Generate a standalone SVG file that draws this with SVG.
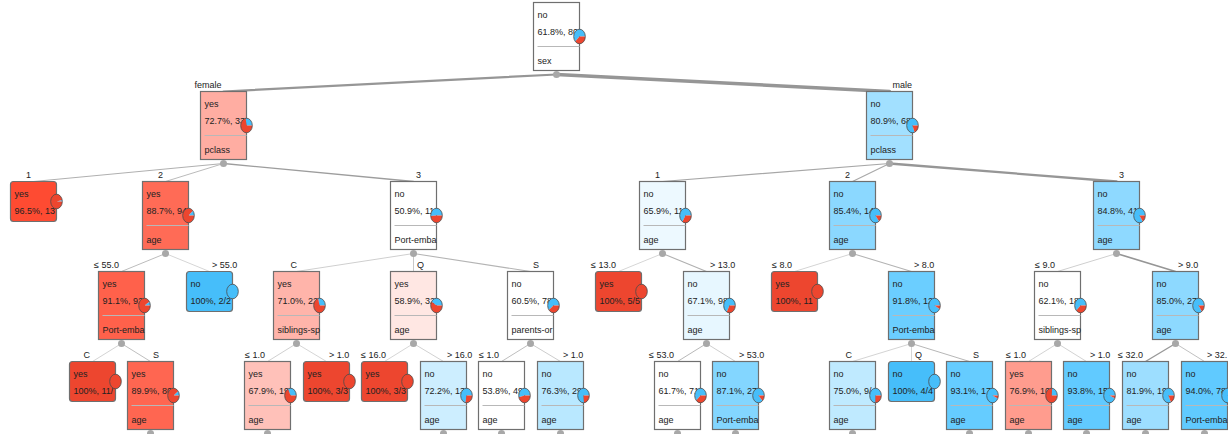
<svg xmlns="http://www.w3.org/2000/svg" width="1228" height="434" viewBox="0 0 1228 434">
<style>
.box{stroke:#6f6f6f;stroke-width:1.2}
.sep{stroke:#b8b8b8;stroke-width:1}
.t{font-family:"Liberation Sans",Arial,sans-serif;font-size:9px;fill:#222}
.e{text-anchor:end}
.dot{fill:#a8a8a8}
.pb{fill:#46befa}
.pr{fill:#ed462f}
.po{fill:none;stroke:#4a4a4a;stroke-width:0.8}
#edges line{stroke-linecap:round;fill:none}
</style>
<rect width="1228" height="434" fill="#ffffff"/>
<g id="edges">
<line x1="556.5" y1="74.5" x2="223.5" y2="91.5" stroke="#969696" stroke-width="2.2"/>
<line x1="556.5" y1="74.5" x2="889.5" y2="91.5" stroke="#969696" stroke-width="3.5"/>
<line x1="223.5" y1="163.5" x2="33.5" y2="181.5" stroke="#b0b0b0" stroke-width="1.1"/>
<line x1="223.5" y1="163.5" x2="165.5" y2="181.5" stroke="#bbbbbb" stroke-width="1"/>
<line x1="223.5" y1="163.5" x2="413.5" y2="181.5" stroke="#9d9d9d" stroke-width="1.35"/>
<line x1="889.5" y1="163.5" x2="662.5" y2="181.5" stroke="#a7a7a7" stroke-width="1.2"/>
<line x1="889.5" y1="163.5" x2="852.5" y2="181.5" stroke="#a9a9a9" stroke-width="1.2"/>
<line x1="889.5" y1="163.5" x2="1116.5" y2="181.5" stroke="#969696" stroke-width="2.3"/>
<line x1="165.5" y1="253.5" x2="121.5" y2="271.5" stroke="#bcbcbc" stroke-width="1"/>
<line x1="165.5" y1="253.5" x2="209.5" y2="271.5" stroke="#d6d6d6" stroke-width="1"/>
<line x1="413.5" y1="253.5" x2="296.5" y2="271.5" stroke="#cfcfcf" stroke-width="1"/>
<line x1="413.5" y1="253.5" x2="413.5" y2="271.5" stroke="#c8c8c8" stroke-width="1"/>
<line x1="413.5" y1="253.5" x2="530.5" y2="271.5" stroke="#b4b4b4" stroke-width="1.05"/>
<line x1="662.5" y1="253.5" x2="618.5" y2="271.5" stroke="#d6d6d6" stroke-width="1"/>
<line x1="662.5" y1="253.5" x2="706.5" y2="271.5" stroke="#b0b0b0" stroke-width="1.1"/>
<line x1="852.5" y1="253.5" x2="794.5" y2="271.5" stroke="#d4d4d4" stroke-width="1"/>
<line x1="852.5" y1="253.5" x2="911.5" y2="271.5" stroke="#b3b3b3" stroke-width="1.05"/>
<line x1="1116.5" y1="253.5" x2="1057.5" y2="271.5" stroke="#cfcfcf" stroke-width="1"/>
<line x1="1116.5" y1="253.5" x2="1175.5" y2="271.5" stroke="#969696" stroke-width="1.7"/>
<line x1="121.5" y1="343.5" x2="92.5" y2="361.5" stroke="#d4d4d4" stroke-width="1"/>
<line x1="121.5" y1="343.5" x2="150.5" y2="361.5" stroke="#bfbfbf" stroke-width="1"/>
<line x1="296.5" y1="343.5" x2="267.5" y2="361.5" stroke="#d0d0d0" stroke-width="1"/>
<line x1="296.5" y1="343.5" x2="326.5" y2="361.5" stroke="#d6d6d6" stroke-width="1"/>
<line x1="413.5" y1="343.5" x2="384.5" y2="361.5" stroke="#d6d6d6" stroke-width="1"/>
<line x1="413.5" y1="343.5" x2="443.5" y2="361.5" stroke="#d2d2d2" stroke-width="1"/>
<line x1="530.5" y1="343.5" x2="501.5" y2="361.5" stroke="#bebebe" stroke-width="1"/>
<line x1="530.5" y1="343.5" x2="560.5" y2="361.5" stroke="#cdcdcd" stroke-width="1"/>
<line x1="706.5" y1="343.5" x2="677.5" y2="361.5" stroke="#b8b8b8" stroke-width="1"/>
<line x1="706.5" y1="343.5" x2="735.5" y2="361.5" stroke="#cfcfcf" stroke-width="1"/>
<line x1="911.5" y1="343.5" x2="852.5" y2="361.5" stroke="#d4d4d4" stroke-width="1"/>
<line x1="911.5" y1="343.5" x2="911.5" y2="361.5" stroke="#d6d6d6" stroke-width="1"/>
<line x1="911.5" y1="343.5" x2="969.5" y2="361.5" stroke="#b7b7b7" stroke-width="1"/>
<line x1="1057.5" y1="343.5" x2="1028.5" y2="361.5" stroke="#d3d3d3" stroke-width="1"/>
<line x1="1057.5" y1="343.5" x2="1086.5" y2="361.5" stroke="#d3d3d3" stroke-width="1"/>
<line x1="1175.5" y1="343.5" x2="1145.5" y2="361.5" stroke="#999999" stroke-width="1.4"/>
<line x1="1175.5" y1="343.5" x2="1204.5" y2="361.5" stroke="#c1c1c1" stroke-width="1"/>
</g>

<g id="n-root">
<rect class="box" x="533.5" y="2.5" width="46" height="68" fill="#ffffff"/>
<text class="t" x="537.5" y="17.5">no</text>
<text class="t" x="537.5" y="34.5">61.8%, 80</text>
<line class="sep" x1="537.5" y1="46.5" x2="579.5" y2="46.5"/>
<text class="t" x="537.5" y="63.5">sex</text>
<g transform="translate(579.5,36.5)"><path class="pb" d="M0,0H5.8A5.8,7.3 0 1 0 -4.28,4.93Z"/><path class="pr" d="M0,0L-4.28,4.93A5.8,7.3 0 0 0 5.8,0Z"/><ellipse class="po" rx="5.8" ry="7.3"/></g>
<circle class="dot" cx="556.5" cy="74.5" r="3.5"/>
</g>

<g id="n-female">
<text class="t e" x="221.5" y="88">female</text>
<rect class="box" x="200.5" y="91.5" width="46" height="68" fill="#ffada2"/>
<text class="t" x="204.5" y="106.5">yes</text>
<text class="t" x="204.5" y="123.5">72.7%, 33</text>
<line class="sep" x1="204.5" y1="135.5" x2="246.5" y2="135.5"/>
<text class="t" x="204.5" y="152.5">pclass</text>
<g transform="translate(246.5,125.5)"><path class="pb" d="M0,0H5.8A5.8,7.3 0 0 0 -0.84,-7.22Z"/><path class="pr" d="M0,0L-0.84,-7.22A5.8,7.3 0 1 0 5.8,0Z"/><ellipse class="po" rx="5.8" ry="7.3"/></g>
<circle class="dot" cx="223.5" cy="163.5" r="3.5"/>
</g>

<g id="n-male">
<text class="t" x="892.5" y="88">male</text>
<rect class="box" x="866.5" y="91.5" width="46" height="68" fill="#a2e0ff"/>
<text class="t" x="870.5" y="106.5">no</text>
<text class="t" x="870.5" y="123.5">80.9%, 68</text>
<line class="sep" x1="870.5" y1="135.5" x2="912.5" y2="135.5"/>
<text class="t" x="870.5" y="152.5">pclass</text>
<g transform="translate(912.5,125.5)"><path class="pb" d="M0,0H5.8A5.8,7.3 0 1 0 2.10,6.81Z"/><path class="pr" d="M0,0L2.10,6.81A5.8,7.3 0 0 0 5.8,0Z"/><ellipse class="po" rx="5.8" ry="7.3"/></g>
<circle class="dot" cx="889.5" cy="163.5" r="3.5"/>
</g>

<g id="n-f1">
<text class="t e" x="31" y="178">1</text>
<rect class="box" x="10.5" y="181.5" width="46" height="40" rx="3" fill="#fe4b32"/>
<text class="t" x="14.5" y="196.5">yes</text>
<text class="t" x="14.5" y="213.5">96.5%, 13</text>
<g transform="translate(56.5,201.5)"><path class="pb" d="M0,0H5.8A5.8,7.3 0 0 0 5.66,-1.59Z"/><path class="pr" d="M0,0L5.66,-1.59A5.8,7.3 0 1 0 5.8,0Z"/><ellipse class="po" rx="5.8" ry="7.3"/></g>
</g>

<g id="n-f2">
<text class="t e" x="163" y="178">2</text>
<rect class="box" x="142.5" y="181.5" width="46" height="68" fill="#ff6b56"/>
<text class="t" x="146.5" y="196.5">yes</text>
<text class="t" x="146.5" y="213.5">88.7%, 94</text>
<line class="sep" x1="146.5" y1="225.5" x2="188.5" y2="225.5"/>
<text class="t" x="146.5" y="242.5">age</text>
<g transform="translate(188.5,215.5)"><path class="pb" d="M0,0H5.8A5.8,7.3 0 0 0 4.40,-4.76Z"/><path class="pr" d="M0,0L4.40,-4.76A5.8,7.3 0 1 0 5.8,0Z"/><ellipse class="po" rx="5.8" ry="7.3"/></g>
<circle class="dot" cx="165.5" cy="253.5" r="3.5"/>
</g>

<g id="n-f3">
<text class="t" x="416" y="178">3</text>
<rect class="box" x="390.5" y="181.5" width="46" height="68" fill="#ffffff"/>
<text class="t" x="394.5" y="196.5">no</text>
<text class="t" x="394.5" y="213.5">50.9%, 11</text>
<line class="sep" x1="394.5" y1="225.5" x2="436.5" y2="225.5"/>
<text class="t" x="394.5" y="242.5">Port-emba</text>
<g transform="translate(436.5,215.5)"><path class="pb" d="M0,0H5.8A5.8,7.3 0 1 0 -5.79,0.41Z"/><path class="pr" d="M0,0L-5.79,0.41A5.8,7.3 0 0 0 5.8,0Z"/><ellipse class="po" rx="5.8" ry="7.3"/></g>
<circle class="dot" cx="413.5" cy="253.5" r="3.5"/>
</g>

<g id="n-m1">
<text class="t e" x="660" y="178">1</text>
<rect class="box" x="639.5" y="181.5" width="46" height="68" fill="#edf9ff"/>
<text class="t" x="643.5" y="196.5">no</text>
<text class="t" x="643.5" y="213.5">65.9%, 11</text>
<line class="sep" x1="643.5" y1="225.5" x2="685.5" y2="225.5"/>
<text class="t" x="643.5" y="242.5">age</text>
<g transform="translate(685.5,215.5)"><path class="pb" d="M0,0H5.8A5.8,7.3 0 1 0 -3.14,6.14Z"/><path class="pr" d="M0,0L-3.14,6.14A5.8,7.3 0 0 0 5.8,0Z"/><ellipse class="po" rx="5.8" ry="7.3"/></g>
<circle class="dot" cx="662.5" cy="253.5" r="3.5"/>
</g>

<g id="n-m2">
<text class="t e" x="850" y="178">2</text>
<rect class="box" x="829.5" y="181.5" width="46" height="68" fill="#8bd8ff"/>
<text class="t" x="833.5" y="196.5">no</text>
<text class="t" x="833.5" y="213.5">85.4%, 14</text>
<line class="sep" x1="833.5" y1="225.5" x2="875.5" y2="225.5"/>
<text class="t" x="833.5" y="242.5">age</text>
<g transform="translate(875.5,215.5)"><path class="pb" d="M0,0H5.8A5.8,7.3 0 1 0 3.52,5.80Z"/><path class="pr" d="M0,0L3.52,5.80A5.8,7.3 0 0 0 5.8,0Z"/><ellipse class="po" rx="5.8" ry="7.3"/></g>
<circle class="dot" cx="852.5" cy="253.5" r="3.5"/>
</g>

<g id="n-m3">
<text class="t" x="1119" y="178">3</text>
<rect class="box" x="1093.5" y="181.5" width="46" height="68" fill="#8ed9ff"/>
<text class="t" x="1097.5" y="196.5">no</text>
<text class="t" x="1097.5" y="213.5">84.8%, 41</text>
<line class="sep" x1="1097.5" y1="225.5" x2="1139.5" y2="225.5"/>
<text class="t" x="1097.5" y="242.5">age</text>
<g transform="translate(1139.5,215.5)"><path class="pb" d="M0,0H5.8A5.8,7.3 0 1 0 3.35,5.96Z"/><path class="pr" d="M0,0L3.35,5.96A5.8,7.3 0 0 0 5.8,0Z"/><ellipse class="po" rx="5.8" ry="7.3"/></g>
<circle class="dot" cx="1116.5" cy="253.5" r="3.5"/>
</g>

<g id="n-f2a">
<text class="t e" x="119" y="268">≤ 55.0</text>
<rect class="box" x="98.5" y="271.5" width="46" height="68" fill="#ff614b"/>
<text class="t" x="102.5" y="286.5">yes</text>
<text class="t" x="102.5" y="303.5">91.1%, 92</text>
<line class="sep" x1="102.5" y1="315.5" x2="144.5" y2="315.5"/>
<text class="t" x="102.5" y="332.5">Port-emba</text>
<g transform="translate(144.5,305.5)"><path class="pb" d="M0,0H5.8A5.8,7.3 0 0 0 4.92,-3.87Z"/><path class="pr" d="M0,0L4.92,-3.87A5.8,7.3 0 1 0 5.8,0Z"/><ellipse class="po" rx="5.8" ry="7.3"/></g>
<circle class="dot" cx="121.5" cy="343.5" r="3.5"/>
</g>

<g id="n-f2b">
<text class="t" x="212" y="268">&gt; 55.0</text>
<rect class="box" x="186.5" y="271.5" width="46" height="40" rx="3" fill="#46befa"/>
<text class="t" x="190.5" y="286.5">no</text>
<text class="t" x="190.5" y="303.5">100%, 2/2</text>
<g transform="translate(232.5,291.5)"><ellipse class="pb" rx="5.8" ry="7.3"/><ellipse class="po" rx="5.8" ry="7.3"/></g>
</g>

<g id="n-f3C">
<text class="t e" x="297" y="268">C</text>
<rect class="box" x="273.5" y="271.5" width="46" height="68" fill="#ffb4aa"/>
<text class="t" x="277.5" y="286.5">yes</text>
<text class="t" x="277.5" y="303.5">71.0%, 22</text>
<line class="sep" x1="277.5" y1="315.5" x2="319.5" y2="315.5"/>
<text class="t" x="277.5" y="332.5">siblings-sp</text>
<g transform="translate(319.5,305.5)"><path class="pb" d="M0,0H5.8A5.8,7.3 0 0 0 -1.44,-7.07Z"/><path class="pr" d="M0,0L-1.44,-7.07A5.8,7.3 0 1 0 5.8,0Z"/><ellipse class="po" rx="5.8" ry="7.3"/></g>
<circle class="dot" cx="296.5" cy="343.5" r="3.5"/>
</g>

<g id="n-f3Q">
<text class="t" x="417" y="268">Q</text>
<rect class="box" x="390.5" y="271.5" width="46" height="68" fill="#ffe7e3"/>
<text class="t" x="394.5" y="286.5">yes</text>
<text class="t" x="394.5" y="303.5">58.9%, 32</text>
<line class="sep" x1="394.5" y1="315.5" x2="436.5" y2="315.5"/>
<text class="t" x="394.5" y="332.5">age</text>
<g transform="translate(436.5,305.5)"><path class="pb" d="M0,0H5.8A5.8,7.3 0 0 0 -4.92,-3.87Z"/><path class="pr" d="M0,0L-4.92,-3.87A5.8,7.3 0 1 0 5.8,0Z"/><ellipse class="po" rx="5.8" ry="7.3"/></g>
<circle class="dot" cx="413.5" cy="343.5" r="3.5"/>
</g>

<g id="n-f3S">
<text class="t" x="533" y="268">S</text>
<rect class="box" x="507.5" y="271.5" width="46" height="68" fill="#ffffff"/>
<text class="t" x="511.5" y="286.5">no</text>
<text class="t" x="511.5" y="303.5">60.5%, 78</text>
<line class="sep" x1="511.5" y1="315.5" x2="553.5" y2="315.5"/>
<text class="t" x="511.5" y="332.5">parents-or</text>
<g transform="translate(553.5,305.5)"><path class="pb" d="M0,0H5.8A5.8,7.3 0 1 0 -4.58,4.47Z"/><path class="pr" d="M0,0L-4.58,4.47A5.8,7.3 0 0 0 5.8,0Z"/><ellipse class="po" rx="5.8" ry="7.3"/></g>
<circle class="dot" cx="530.5" cy="343.5" r="3.5"/>
</g>

<g id="n-m1a">
<text class="t e" x="616" y="268">≤ 13.0</text>
<rect class="box" x="595.5" y="271.5" width="46" height="40" rx="3" fill="#ed462f"/>
<text class="t" x="599.5" y="286.5">yes</text>
<text class="t" x="599.5" y="303.5">100%, 5/5</text>
<g transform="translate(641.5,291.5)"><ellipse class="pr" rx="5.8" ry="7.3"/><ellipse class="po" rx="5.8" ry="7.3"/></g>
</g>

<g id="n-m1b">
<text class="t" x="710" y="268">&gt; 13.0</text>
<rect class="box" x="683.5" y="271.5" width="46" height="68" fill="#e7f7ff"/>
<text class="t" x="687.5" y="286.5">no</text>
<text class="t" x="687.5" y="303.5">67.1%, 98</text>
<line class="sep" x1="687.5" y1="315.5" x2="729.5" y2="315.5"/>
<text class="t" x="687.5" y="332.5">age</text>
<g transform="translate(729.5,305.5)"><path class="pb" d="M0,0H5.8A5.8,7.3 0 1 0 -2.76,6.42Z"/><path class="pr" d="M0,0L-2.76,6.42A5.8,7.3 0 0 0 5.8,0Z"/><ellipse class="po" rx="5.8" ry="7.3"/></g>
<circle class="dot" cx="706.5" cy="343.5" r="3.5"/>
</g>

<g id="n-m2a">
<text class="t e" x="792" y="268">≤ 8.0</text>
<rect class="box" x="771.5" y="271.5" width="46" height="40" rx="3" fill="#ed462f"/>
<text class="t" x="775.5" y="286.5">yes</text>
<text class="t" x="775.5" y="303.5">100%, 11</text>
<g transform="translate(817.5,291.5)"><ellipse class="pr" rx="5.8" ry="7.3"/><ellipse class="po" rx="5.8" ry="7.3"/></g>
</g>

<g id="n-m2b">
<text class="t" x="914" y="268">&gt; 8.0</text>
<rect class="box" x="888.5" y="271.5" width="46" height="68" fill="#6bceff"/>
<text class="t" x="892.5" y="286.5">no</text>
<text class="t" x="892.5" y="303.5">91.8%, 12</text>
<line class="sep" x1="892.5" y1="315.5" x2="934.5" y2="315.5"/>
<text class="t" x="892.5" y="332.5">Port-emba</text>
<g transform="translate(934.5,305.5)"><path class="pb" d="M0,0H5.8A5.8,7.3 0 1 0 5.05,3.59Z"/><path class="pr" d="M0,0L5.05,3.59A5.8,7.3 0 0 0 5.8,0Z"/><ellipse class="po" rx="5.8" ry="7.3"/></g>
<circle class="dot" cx="911.5" cy="343.5" r="3.5"/>
</g>

<g id="n-m3a">
<text class="t e" x="1055" y="268">≤ 9.0</text>
<rect class="box" x="1034.5" y="271.5" width="46" height="68" fill="#ffffff"/>
<text class="t" x="1038.5" y="286.5">no</text>
<text class="t" x="1038.5" y="303.5">62.1%, 18</text>
<line class="sep" x1="1038.5" y1="315.5" x2="1080.5" y2="315.5"/>
<text class="t" x="1038.5" y="332.5">siblings-sp</text>
<g transform="translate(1080.5,305.5)"><path class="pb" d="M0,0H5.8A5.8,7.3 0 1 0 -4.20,5.03Z"/><path class="pr" d="M0,0L-4.20,5.03A5.8,7.3 0 0 0 5.8,0Z"/><ellipse class="po" rx="5.8" ry="7.3"/></g>
<circle class="dot" cx="1057.5" cy="343.5" r="3.5"/>
</g>

<g id="n-m3b">
<text class="t" x="1178" y="268">&gt; 9.0</text>
<rect class="box" x="1152.5" y="271.5" width="46" height="68" fill="#8dd9ff"/>
<text class="t" x="1156.5" y="286.5">no</text>
<text class="t" x="1156.5" y="303.5">85.0%, 27</text>
<line class="sep" x1="1156.5" y1="315.5" x2="1198.5" y2="315.5"/>
<text class="t" x="1156.5" y="332.5">age</text>
<g transform="translate(1198.5,305.5)"><path class="pb" d="M0,0H5.8A5.8,7.3 0 1 0 3.41,5.91Z"/><path class="pr" d="M0,0L3.41,5.91A5.8,7.3 0 0 0 5.8,0Z"/><ellipse class="po" rx="5.8" ry="7.3"/></g>
<circle class="dot" cx="1175.5" cy="343.5" r="3.5"/>
</g>

<g id="n-a">
<text class="t e" x="90" y="358">C</text>
<rect class="box" x="69.5" y="361.5" width="46" height="40" rx="3" fill="#ed462f"/>
<text class="t" x="73.5" y="376.5">yes</text>
<text class="t" x="73.5" y="393.5">100%, 11/</text>
<g transform="translate(115.5,381.5)"><ellipse class="pr" rx="5.8" ry="7.3"/><ellipse class="po" rx="5.8" ry="7.3"/></g>
</g>

<g id="n-b">
<text class="t" x="153" y="358">S</text>
<rect class="box" x="127.5" y="361.5" width="46" height="68" fill="#ff6651"/>
<text class="t" x="131.5" y="376.5">yes</text>
<text class="t" x="131.5" y="393.5">89.9%, 80</text>
<line class="sep" x1="131.5" y1="405.5" x2="173.5" y2="405.5"/>
<text class="t" x="131.5" y="422.5">age</text>
<g transform="translate(173.5,395.5)"><path class="pb" d="M0,0H5.8A5.8,7.3 0 0 0 4.67,-4.33Z"/><path class="pr" d="M0,0L4.67,-4.33A5.8,7.3 0 1 0 5.8,0Z"/><ellipse class="po" rx="5.8" ry="7.3"/></g>
<circle class="dot" cx="150.5" cy="433.5" r="3.5"/>
</g>

<g id="n-c">
<text class="t e" x="265" y="358">≤ 1.0</text>
<rect class="box" x="244.5" y="361.5" width="46" height="68" fill="#ffc1b9"/>
<text class="t" x="248.5" y="376.5">yes</text>
<text class="t" x="248.5" y="393.5">67.9%, 19</text>
<line class="sep" x1="248.5" y1="405.5" x2="290.5" y2="405.5"/>
<text class="t" x="248.5" y="422.5">age</text>
<g transform="translate(290.5,395.5)"><path class="pb" d="M0,0H5.8A5.8,7.3 0 0 0 -2.51,-6.58Z"/><path class="pr" d="M0,0L-2.51,-6.58A5.8,7.3 0 1 0 5.8,0Z"/><ellipse class="po" rx="5.8" ry="7.3"/></g>
<circle class="dot" cx="267.5" cy="433.5" r="3.5"/>
</g>

<g id="n-d">
<text class="t" x="329" y="358">&gt; 1.0</text>
<rect class="box" x="303.5" y="361.5" width="46" height="40" rx="3" fill="#ed462f"/>
<text class="t" x="307.5" y="376.5">yes</text>
<text class="t" x="307.5" y="393.5">100%, 3/3</text>
<g transform="translate(349.5,381.5)"><ellipse class="pr" rx="5.8" ry="7.3"/><ellipse class="po" rx="5.8" ry="7.3"/></g>
</g>

<g id="n-e">
<text class="t e" x="386" y="358">≤ 16.0</text>
<rect class="box" x="361.5" y="361.5" width="46" height="40" rx="3" fill="#ed462f"/>
<text class="t" x="365.5" y="376.5">yes</text>
<text class="t" x="365.5" y="393.5">100%, 3/3</text>
<g transform="translate(407.5,381.5)"><ellipse class="pr" rx="5.8" ry="7.3"/><ellipse class="po" rx="5.8" ry="7.3"/></g>
</g>

<g id="n-f">
<text class="t" x="447" y="358">&gt; 16.0</text>
<rect class="box" x="420.5" y="361.5" width="46" height="68" fill="#cdeeff"/>
<text class="t" x="424.5" y="376.5">no</text>
<text class="t" x="424.5" y="393.5">72.2%, 13</text>
<line class="sep" x1="424.5" y1="405.5" x2="466.5" y2="405.5"/>
<text class="t" x="424.5" y="422.5">age</text>
<g transform="translate(466.5,395.5)"><path class="pb" d="M0,0H5.8A5.8,7.3 0 1 0 -1.02,7.19Z"/><path class="pr" d="M0,0L-1.02,7.19A5.8,7.3 0 0 0 5.8,0Z"/><ellipse class="po" rx="5.8" ry="7.3"/></g>
<circle class="dot" cx="443.5" cy="433.5" r="3.5"/>
</g>

<g id="n-g">
<text class="t e" x="499" y="358">≤ 1.0</text>
<rect class="box" x="478.5" y="361.5" width="46" height="68" fill="#ffffff"/>
<text class="t" x="482.5" y="376.5">no</text>
<text class="t" x="482.5" y="393.5">53.8%, 49</text>
<line class="sep" x1="482.5" y1="405.5" x2="524.5" y2="405.5"/>
<text class="t" x="482.5" y="422.5">age</text>
<g transform="translate(524.5,395.5)"><path class="pb" d="M0,0H5.8A5.8,7.3 0 1 0 -5.63,1.73Z"/><path class="pr" d="M0,0L-5.63,1.73A5.8,7.3 0 0 0 5.8,0Z"/><ellipse class="po" rx="5.8" ry="7.3"/></g>
<circle class="dot" cx="501.5" cy="433.5" r="3.5"/>
</g>

<g id="n-h">
<text class="t" x="563" y="358">&gt; 1.0</text>
<rect class="box" x="537.5" y="361.5" width="46" height="68" fill="#b9e8ff"/>
<text class="t" x="541.5" y="376.5">no</text>
<text class="t" x="541.5" y="393.5">76.3%, 29</text>
<line class="sep" x1="541.5" y1="405.5" x2="583.5" y2="405.5"/>
<text class="t" x="541.5" y="422.5">age</text>
<g transform="translate(583.5,395.5)"><path class="pb" d="M0,0H5.8A5.8,7.3 0 1 0 0.48,7.28Z"/><path class="pr" d="M0,0L0.48,7.28A5.8,7.3 0 0 0 5.8,0Z"/><ellipse class="po" rx="5.8" ry="7.3"/></g>
<circle class="dot" cx="560.5" cy="433.5" r="3.5"/>
</g>

<g id="n-i">
<text class="t e" x="674" y="358">≤ 53.0</text>
<rect class="box" x="654.5" y="361.5" width="46" height="68" fill="#ffffff"/>
<text class="t" x="658.5" y="376.5">no</text>
<text class="t" x="658.5" y="393.5">61.7%, 71</text>
<line class="sep" x1="658.5" y1="405.5" x2="700.5" y2="405.5"/>
<text class="t" x="658.5" y="422.5">age</text>
<g transform="translate(700.5,395.5)"><path class="pb" d="M0,0H5.8A5.8,7.3 0 1 0 -4.30,4.89Z"/><path class="pr" d="M0,0L-4.30,4.89A5.8,7.3 0 0 0 5.8,0Z"/><ellipse class="po" rx="5.8" ry="7.3"/></g>
<circle class="dot" cx="677.5" cy="433.5" r="3.5"/>
</g>

<g id="n-j">
<text class="t" x="739" y="358">&gt; 53.0</text>
<rect class="box" x="712.5" y="361.5" width="46" height="68" fill="#83d6ff"/>
<text class="t" x="716.5" y="376.5">no</text>
<text class="t" x="716.5" y="393.5">87.1%, 27</text>
<line class="sep" x1="716.5" y1="405.5" x2="758.5" y2="405.5"/>
<text class="t" x="716.5" y="422.5">Port-emba</text>
<g transform="translate(758.5,395.5)"><path class="pb" d="M0,0H5.8A5.8,7.3 0 1 0 4.00,5.29Z"/><path class="pr" d="M0,0L4.00,5.29A5.8,7.3 0 0 0 5.8,0Z"/><ellipse class="po" rx="5.8" ry="7.3"/></g>
<circle class="dot" cx="735.5" cy="433.5" r="3.5"/>
</g>

<g id="n-k">
<text class="t e" x="852" y="358">C</text>
<rect class="box" x="829.5" y="361.5" width="46" height="68" fill="#bfeaff"/>
<text class="t" x="833.5" y="376.5">no</text>
<text class="t" x="833.5" y="393.5">75.0%, 9/</text>
<line class="sep" x1="833.5" y1="405.5" x2="875.5" y2="405.5"/>
<text class="t" x="833.5" y="422.5">age</text>
<g transform="translate(875.5,395.5)"><path class="pb" d="M0,0H5.8A5.8,7.3 0 1 0 0,7.3Z"/><path class="pr" d="M0,0L0,7.3A5.8,7.3 0 0 0 5.8,0Z"/><ellipse class="po" rx="5.8" ry="7.3"/></g>
<circle class="dot" cx="852.5" cy="433.5" r="3.5"/>
</g>

<g id="n-l">
<text class="t" x="915" y="358">Q</text>
<rect class="box" x="888.5" y="361.5" width="46" height="40" rx="3" fill="#46befa"/>
<text class="t" x="892.5" y="376.5">no</text>
<text class="t" x="892.5" y="393.5">100%, 4/4</text>
<g transform="translate(934.5,381.5)"><ellipse class="pb" rx="5.8" ry="7.3"/><ellipse class="po" rx="5.8" ry="7.3"/></g>
</g>

<g id="n-m">
<text class="t" x="973" y="358">S</text>
<rect class="box" x="946.5" y="361.5" width="46" height="68" fill="#65ccff"/>
<text class="t" x="950.5" y="376.5">no</text>
<text class="t" x="950.5" y="393.5">93.1%, 17</text>
<line class="sep" x1="950.5" y1="405.5" x2="992.5" y2="405.5"/>
<text class="t" x="950.5" y="422.5">age</text>
<g transform="translate(992.5,395.5)"><path class="pb" d="M0,0H5.8A5.8,7.3 0 1 0 5.27,3.06Z"/><path class="pr" d="M0,0L5.27,3.06A5.8,7.3 0 0 0 5.8,0Z"/><ellipse class="po" rx="5.8" ry="7.3"/></g>
<circle class="dot" cx="969.5" cy="433.5" r="3.5"/>
</g>

<g id="n-n">
<text class="t e" x="1026" y="358">≤ 1.0</text>
<rect class="box" x="1005.5" y="361.5" width="46" height="68" fill="#ff9c8e"/>
<text class="t" x="1009.5" y="376.5">yes</text>
<text class="t" x="1009.5" y="393.5">76.9%, 10</text>
<line class="sep" x1="1009.5" y1="405.5" x2="1051.5" y2="405.5"/>
<text class="t" x="1009.5" y="422.5">age</text>
<g transform="translate(1051.5,395.5)"><path class="pb" d="M0,0H5.8A5.8,7.3 0 0 0 0.69,-7.25Z"/><path class="pr" d="M0,0L0.69,-7.25A5.8,7.3 0 1 0 5.8,0Z"/><ellipse class="po" rx="5.8" ry="7.3"/></g>
<circle class="dot" cx="1028.5" cy="433.5" r="3.5"/>
</g>

<g id="n-o">
<text class="t" x="1090" y="358">&gt; 1.0</text>
<rect class="box" x="1063.5" y="361.5" width="46" height="68" fill="#61caff"/>
<text class="t" x="1067.5" y="376.5">no</text>
<text class="t" x="1067.5" y="393.5">93.8%, 15</text>
<line class="sep" x1="1067.5" y1="405.5" x2="1109.5" y2="405.5"/>
<text class="t" x="1067.5" y="422.5">age</text>
<g transform="translate(1109.5,395.5)"><path class="pb" d="M0,0H5.8A5.8,7.3 0 1 0 5.37,2.77Z"/><path class="pr" d="M0,0L5.37,2.77A5.8,7.3 0 0 0 5.8,0Z"/><ellipse class="po" rx="5.8" ry="7.3"/></g>
<circle class="dot" cx="1086.5" cy="433.5" r="3.5"/>
</g>

<g id="n-p">
<text class="t e" x="1143" y="358">≤ 32.0</text>
<rect class="box" x="1122.5" y="361.5" width="46" height="68" fill="#9ddeff"/>
<text class="t" x="1126.5" y="376.5">no</text>
<text class="t" x="1126.5" y="393.5">81.9%, 19</text>
<line class="sep" x1="1126.5" y1="405.5" x2="1168.5" y2="405.5"/>
<text class="t" x="1126.5" y="422.5">age</text>
<g transform="translate(1168.5,395.5)"><path class="pb" d="M0,0H5.8A5.8,7.3 0 1 0 2.43,6.63Z"/><path class="pr" d="M0,0L2.43,6.63A5.8,7.3 0 0 0 5.8,0Z"/><ellipse class="po" rx="5.8" ry="7.3"/></g>
<circle class="dot" cx="1145.5" cy="433.5" r="3.5"/>
</g>

<g id="n-q">
<text class="t" x="1207" y="358">&gt; 32.</text>
<rect class="box" x="1181.5" y="361.5" width="46" height="68" fill="#60caff"/>
<text class="t" x="1185.5" y="376.5">no</text>
<text class="t" x="1185.5" y="393.5">94.0%, 78</text>
<line class="sep" x1="1185.5" y1="405.5" x2="1227.5" y2="405.5"/>
<text class="t" x="1185.5" y="422.5">Port-emba</text>
<g transform="translate(1227.5,395.5)"><path class="pb" d="M0,0H5.8A5.8,7.3 0 1 0 5.39,2.69Z"/><path class="pr" d="M0,0L5.39,2.69A5.8,7.3 0 0 0 5.8,0Z"/><ellipse class="po" rx="5.8" ry="7.3"/></g>
<circle class="dot" cx="1204.5" cy="433.5" r="3.5"/>
</g>
</svg>
